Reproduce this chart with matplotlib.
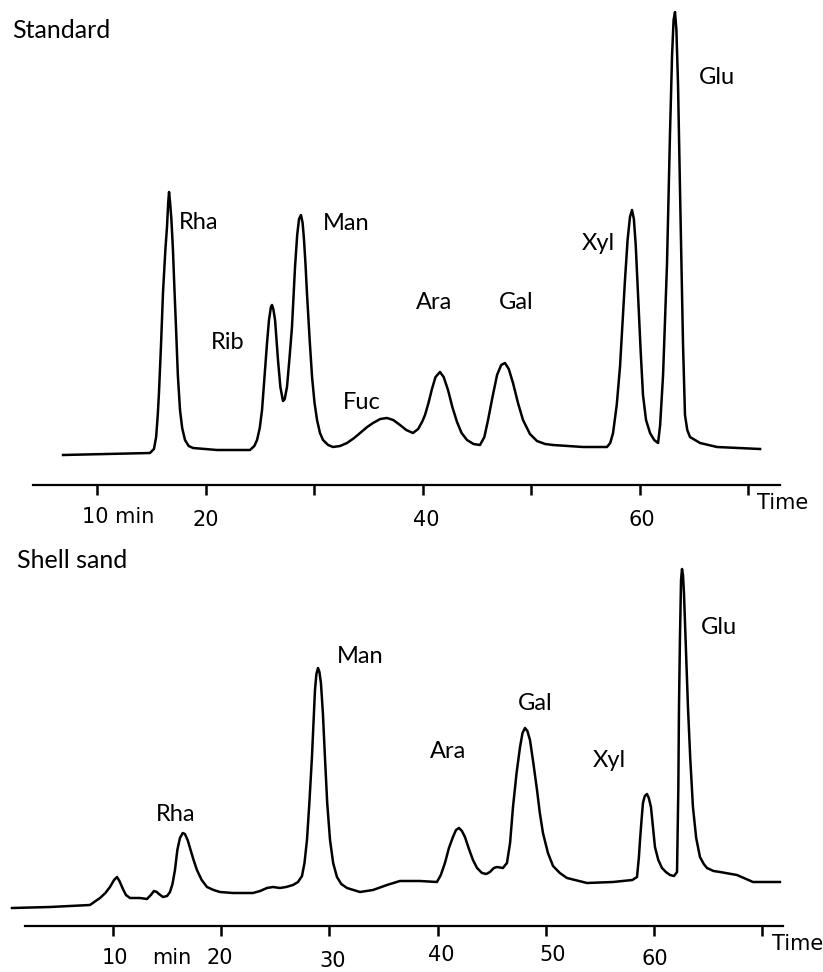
import matplotlib
matplotlib.use("Agg")
import matplotlib.pyplot as plt

# [1. data]
# Standard run: retention time (min) and detector response (arb. units)
std_time = [6.87, 14.88, 15.25, 15.45, 15.60, 15.71, 15.90, 16.08, 16.30, 16.45,
            16.56, 16.64, 16.74, 16.86, 17.00, 17.14, 17.28, 17.45, 17.65, 17.85,
            18.11, 18.45, 18.85, 21.06, 24.10, 24.50, 24.75, 25.00, 25.21, 25.45,
            25.67, 25.85, 26.03, 26.13, 26.25, 26.41, 26.55, 26.68, 26.90, 27.14,
            27.30, 27.51, 27.75, 27.97, 28.25, 28.45, 28.62, 28.80, 28.95, 29.08,
            29.22, 29.35, 29.60, 29.82, 30.05, 30.28, 30.55, 30.83, 31.30, 31.75,
            32.40, 33.04, 33.70, 34.24, 34.90, 35.44, 36.10, 36.73, 37.30, 37.93,
            38.50, 39.12, 39.60, 40.00, 40.23, 40.55, 40.87, 41.20, 41.61, 41.95,
            42.35, 42.75, 43.18, 43.60, 44.10, 44.70, 45.30, 45.70, 46.04, 46.45,
            46.87, 47.25, 47.60, 47.95, 48.34, 48.80, 49.26, 49.90, 50.55, 51.30,
            52.03, 54.79, 57.00, 57.30, 57.56, 57.90, 58.20, 58.45, 58.66, 58.90,
            59.12, 59.31, 59.48, 59.65, 59.86, 60.10, 60.32, 60.60, 60.97, 61.35,
            61.71, 61.90, 62.17, 62.53, 62.81, 63.00, 63.14, 63.27, 63.40, 63.55,
            63.74, 64.01, 64.19, 64.40, 64.65, 65.58, 67.14, 71.11]
std_signal = [0, 2, 6, 18, 40, 62, 110, 162, 205, 228,
              252, 263, 252, 235, 205, 165, 128, 80, 45, 27,
              15, 9, 7, 5, 5, 9, 15, 27, 45, 80,
              112, 135, 148, 150, 146, 135, 115, 95, 68, 54,
              56, 68, 98, 128, 188, 220, 236, 240, 232, 215,
              190, 162, 115, 78, 52, 35, 22, 15, 10, 8,
              9, 12, 17, 22, 28, 32, 36, 37, 35, 30,
              25, 22, 26, 34, 40, 52, 66, 78, 83, 78,
              65, 48, 33, 22, 15, 11, 10, 18, 35, 58,
              80, 90, 92, 86, 72, 52, 35, 21, 14, 11,
              10, 8, 8, 12, 22, 50, 88, 135, 175, 215,
              238, 245, 236, 210, 160, 105, 60, 35, 22, 15,
              12, 30, 80, 190, 322, 400, 435, 443, 425, 370,
              260, 110, 40, 25, 18, 12, 8, 6]

# Shell sand run
sand_time = [0.67, 4.18, 7.87, 8.80, 9.30, 9.72, 10.10, 10.37, 10.60, 10.92,
             11.20, 11.57, 12.50, 13.14, 13.50, 13.79, 14.05, 14.25, 14.62, 15.00,
             15.27, 15.50, 15.73, 15.95, 16.19, 16.45, 16.65, 16.90, 17.12, 17.45,
             17.76, 18.20, 18.69, 19.30, 19.89, 21.09, 22.94, 23.60, 24.23, 24.79,
             25.43, 26.00, 26.64, 27.10, 27.47, 27.70, 27.93, 28.15, 28.39, 28.55,
             28.67, 28.80, 28.95, 29.08, 29.22, 29.40, 29.59, 29.80, 30.06, 30.35,
             30.70, 31.10, 31.63, 32.83, 34.03, 35.32, 36.52, 38.37, 39.94, 40.30,
             40.68, 41.05, 41.42, 41.70, 41.98, 42.25, 42.53, 42.90, 43.27, 43.65,
             44.10, 44.50, 44.84, 45.20, 45.49, 46.04, 46.41, 46.70, 46.97, 47.30,
             47.62, 47.85, 48.08, 48.30, 48.54, 48.85, 49.19, 49.45, 49.74, 50.20,
             50.67, 51.30, 51.96, 53.81, 56.21, 58.00, 58.43, 58.60, 58.71, 58.85,
             58.98, 59.15, 59.35, 59.52, 59.72, 59.90, 60.09, 60.40, 60.74, 61.10,
             61.48, 61.85, 62.13, 62.25, 62.31, 62.40, 62.50, 62.59, 62.68, 62.77,
             62.95, 63.14, 63.35, 63.60, 63.90, 64.25, 64.60, 64.90, 65.50, 66.10,
             67.67, 69.15, 70.44, 71.64]
sand_signal = [0, 1, 3, 10, 15, 21, 28, 31, 27, 19,
               13, 10, 10, 9, 13, 17, 16, 14, 11, 12,
               16, 24, 38, 58, 70, 75, 74, 68, 60, 48,
               38, 28, 21, 18, 16, 15, 15, 17, 20, 21,
               20, 21, 23, 26, 32, 45, 68, 105, 151, 190,
               218, 234, 240, 236, 225, 195, 151, 105, 68, 45,
               31, 24, 20, 16, 18, 23, 27, 27, 26, 33,
               45, 60, 71, 78, 80, 77, 71, 59, 48, 40,
               35, 34, 36, 40, 41, 40, 45, 65, 101, 135,
               161, 175, 180, 177, 168, 145, 118, 95, 75, 55,
               42, 35, 30, 25, 26, 28, 31, 50, 68, 88,
               105, 112, 114, 110, 101, 82, 61, 48, 40, 36,
               33, 32, 36, 120, 201, 270, 328, 339, 333, 315,
               260, 201, 150, 101, 70, 51, 44, 40, 37, 36,
               33, 26, 26, 26]

std_labels = ["Rha", "Rib", "Man", "Fuc", "Ara", "Gal", "Xyl", "Glu"]
std_label_xy = [(17.5, 233), (20.5, 113), (30.8, 232), (32.7, 53),
                (39.4, 153), (47.0, 153), (54.7, 212), (65.5, 378)]
sand_labels = ["Rha", "Man", "Ara", "Gal", "Xyl", "Glu"]
sand_label_xy = [(14.0, 94), (30.7, 252), (39.3, 157), (47.4, 205),
                 (54.3, 148), (64.3, 281)]

top_ticks = [10, 20, 30, 40, 50, 60, 70]
top_ticklabels = [(8.62, -62, "10 min"), (20.0, -65, "20"),
                  (40.3, -65, "40"), (60.2, -65, "60")]
sand_ticklabels = [(10.2, -50, "10"), (15.4, -50, "min"), (19.9, -50, "20"),
                   (30.3, -53, "30"), (40.3, -47, "40"), (50.6, -47, "50"),
                   (60.1, -51, "60")]

W, H = 823, 972
LAB_FONT = ["Lato", "DejaVu Sans"]
NUM_FONT = ["DejaVu Sans"]


def setup_axis(ax, y_axis, x_left, x_right):
    for s in ["top", "right", "left"]:
        ax.spines[s].set_visible(False)
    ax.spines["bottom"].set_position(("data", y_axis))
    ax.spines["bottom"].set_bounds(x_left, x_right)
    ax.spines["bottom"].set_linewidth(1.6)
    ax.set_yticks([])
    ax.set_xticks(top_ticks)
    ax.set_xticklabels([])
    ax.tick_params(axis="x", direction="out", length=7, width=1.8)
    ax.patch.set_alpha(0)


fig = plt.figure(figsize=(W / 100, H / 100), dpi=100)

# [2. Standard]
ax1 = fig.add_axes([0, (H - 540) / H, 1, 540 / H])
ax1.plot(std_time, std_signal, color="black", lw=1.8, solid_joinstyle="round")
ax1.set_xlim(1.06, 76.91)
ax1.set_ylim(-85, 455)
setup_axis(ax1, -30, 4.10, 72.95)
for name, (x, y) in zip(std_labels, std_label_xy):
    ax1.text(x, y, name, fontsize=17, family=LAB_FONT, va="center", ha="left")
for x, y, t in top_ticklabels:
    ax1.text(x, y, t, fontsize=15, family=NUM_FONT, va="center",
             ha="left" if "min" in t else "center")
ax1.text(70.83, -48, "Time", fontsize=15, family=NUM_FONT, va="center", ha="left")

# [3. Shell sand]
ax2 = fig.add_axes([0, 0, 1, 432 / H])
ax2.plot(sand_time, sand_signal, color="black", lw=1.8, solid_joinstyle="round")
ax2.set_xlim(-0.44, 75.62)
ax2.set_ylim(-64, 368)
setup_axis(ax2, -18, 1.87, 71.92)
for name, (x, y) in zip(sand_labels, sand_label_xy):
    ax2.text(x, y, name, fontsize=17, family=LAB_FONT, va="center", ha="left")
for x, y, t in sand_ticklabels:
    ax2.text(x, y, t, fontsize=15, family=NUM_FONT, va="center", ha="center")
ax2.text(70.9, -36, "Time", fontsize=15, family=NUM_FONT, va="center", ha="left")

fig.text(12 / W, 1 - 30 / H, "Standard", fontsize=18, family=LAB_FONT,
         va="center", ha="left")
fig.text(17 / W, 1 - 560 / H, "Shell sand", fontsize=18, family=LAB_FONT,
         va="center", ha="left")

fig.savefig("out.png", dpi=100)
